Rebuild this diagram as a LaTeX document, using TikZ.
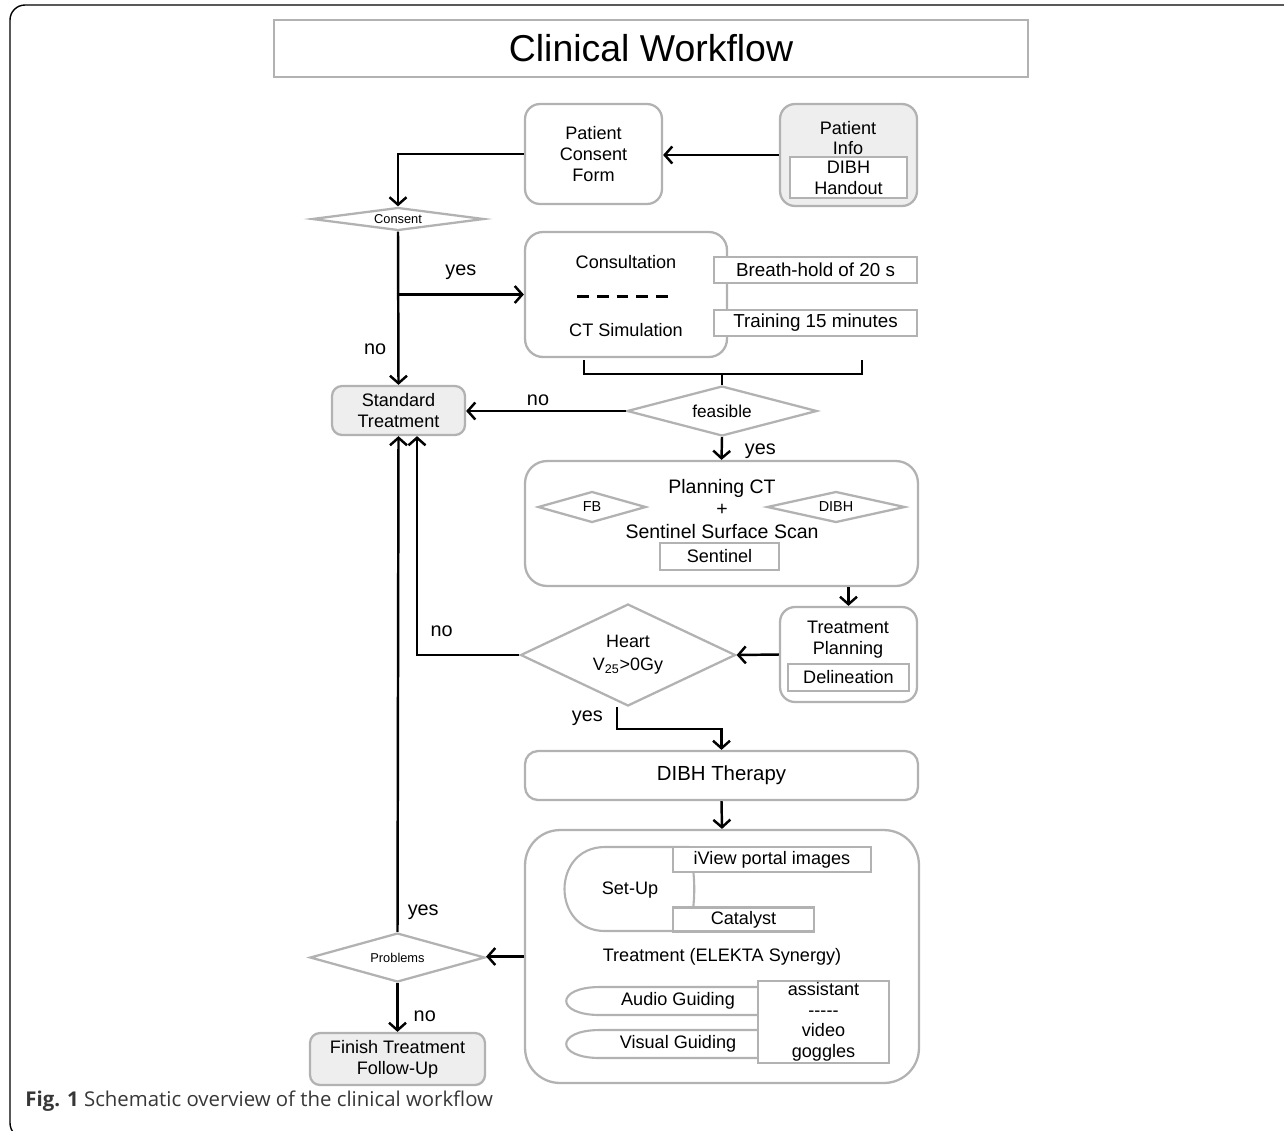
\documentclass[tikz,border=0pt]{standalone}
\usepackage{fontspec}
\setmainfont{Liberation Sans}
\newfontfamily\capfont{Open Sans}
\usepackage{tikz}
\usetikzlibrary{arrows.meta,positioning,calc,shapes.geometric}
\definecolor{boxgrey}{RGB}{178,178,178}
\definecolor{fillgrey}{RGB}{238,238,238}
\definecolor{capgrey}{RGB}{55,55,55}
\tikzset{
  base/.style={font=\fontsize{10.3}{11.9}\selectfont, align=center, inner sep=0pt, text=black},
  box/.style={base, rectangle, rounded corners=0.3cm, draw=boxgrey, fill=white, line width=1.3pt},
  greybox/.style={box, fill=fillgrey},
  tag/.style={base, rectangle, draw=boxgrey, fill=white, line width=1.2pt},
  dec/.style={base, diamond, draw=boxgrey, fill=white, line width=1.3pt},
  lane/.style={draw=boxgrey, fill=white, line width=1.2pt},
  arr/.style={-{Straight Barb[length=1.5mm,width=3.4mm,line width=1.4pt]}, line width=1.4pt, draw=black},
  brace/.style={line width=1.3pt, draw=black},
  lbl/.style={font=\fontsize{11.3}{12}\selectfont, inner sep=0pt},
  tiny/.style={font=\fontsize{7.3}{8}\selectfont},
  outline/.style={line width=0.8pt, draw=black, rounded corners=0.3cm},
}

\begin{document}
\begin{tikzpicture}[x=0.02cm,y=-0.02cm]
  \useasboundingbox (0,0) rectangle (1284,1130);
  \draw[outline] (1300,5) -- (10,5) -- (10,1138) -- (40,1138);
  \node[tag, minimum width=15.08cm, minimum height=1.14cm, font=\fontsize{21.3}{23}\selectfont] (title) at (651,48.5) {Clinical Workflow};

  \node[box, minimum width=2.74cm, minimum height=2cm] (form) at (593.5,154) {Patient\\Consent\\Form};
  \node[greybox, minimum width=2.74cm, minimum height=2.04cm] (info) at (848.5,155) {};
  \node[base] (infotext) at (848,138) {Patient\\Info};
  \node[tag, minimum width=2.34cm, minimum height=0.82cm] (handout) at (848.5,177.5) {DIBH\\Handout};
  \node[dec, tiny, aspect=7.5, minimum width=3.44cm, minimum height=0.46cm] (consent) at (398,219) {Consent};

  \node[box, rounded corners=0.36cm, minimum width=4.04cm, minimum height=2.5cm] (consult) at (626,294.5) {};
  \node[base] (consulttext) at (626,262) {Consultation};
  \node[base] (simtext) at (626,330) {CT Simulation};
  \draw[line width=1.7pt, dash pattern=on 0.24cm off 0.155cm] (577,296) -- (668,296);
  \node[tag, font=\fontsize{10.7}{12}\selectfont, minimum width=4.06cm, minimum height=0.52cm] (breath) at (815.5,270) {Breath-hold of 20 s};
  \node[tag, font=\fontsize{10.7}{12}\selectfont, minimum width=4.06cm, minimum height=0.52cm] (training) at (815.5,323) {Training 15 minutes};

  \node[dec, font=\fontsize{9.8}{11}\selectfont, aspect=3.8, minimum width=3.8cm, minimum height=1cm] (feasible) at (722,411) {feasible};
  \coordinate (bracel) at (584,360);
  \coordinate (bracer) at (862,360);
  \draw[brace] (bracel) -- ++(0,14) -- ($(bracer)+(0,14)$) -- (bracer);
  \draw[brace] (feasible.north |- 0,374) -- (feasible.north);
  \node[greybox, rounded corners=0.2cm, minimum width=2.66cm, minimum height=0.98cm] (std) at (398.5,410.5) {Standard\\Treatment};

  \node[box, rounded corners=0.44cm, minimum width=7.86cm, minimum height=2.5cm] (plan) at (721.5,523.5) {};
  \node[dec, font=\fontsize{8.2}{9}\selectfont, aspect=3.5, minimum width=2.16cm, minimum height=0.62cm] (fb) at (592,507) {FB};
  \node[dec, font=\fontsize{8.2}{9}\selectfont, aspect=4.45, minimum width=2.76cm, minimum height=0.62cm] (dibhd) at (836,507) {DIBH};
  \node[base, font=\fontsize{11.1}{12.75}\selectfont] (plantext) at (722,509) {Planning CT\\+\\Sentinel Surface Scan};
  \node[tag, minimum width=2.38cm, minimum height=0.54cm] (sentinel) at (719.5,556.5) {Sentinel};

  \node[box, minimum width=2.74cm, minimum height=1.9cm] (tplan) at (848.5,654.5) {};
  \node[base] (tplantext) at (848,640) {Treatment\\Planning};
  \node[tag, minimum width=2.42cm, minimum height=0.54cm] (delin) at (848.5,677.5) {Delineation};
  \node[dec, font=\fontsize{10.2}{13}\selectfont, aspect=2.1, minimum width=4.3cm, minimum height=2.04cm] (heart) at (628,655) {Heart\\V\textsubscript{25}>0Gy};

  \node[box, rounded corners=0.26cm, font=\fontsize{11.6}{13}\selectfont, minimum width=7.86cm, minimum height=0.98cm] (therapy) at (721.5,775.5) {DIBH Therapy};
  \node[box, rounded corners=0.7cm, minimum width=7.88cm, minimum height=5.06cm] (treat) at (722,956.5) {};
  \draw[lane] (689,847) -- (605,847) .. controls (551,847) and (551,931) .. (605,931) -- (689,931) .. controls (696,903) and (696,875) .. (689,847);
  \node[base] (setup) at (630,890) {Set-Up};
  \node[tag, minimum width=3.96cm, minimum height=0.5cm] (iview) at (772,859.5) {iView portal images};
  \node[tag, minimum width=2.82cm, minimum height=0.48cm] (catalyst) at (743.5,919.5) {Catalyst};
  \node[base] (treattext) at (722,957) {Treatment (ELEKTA Synergy)};
  \draw[lane] (758,987) -- (600,987) .. controls (555,987) and (555,1015) .. (600,1015) -- (758,1015);
  \draw[lane] (758,1030) -- (600,1030) .. controls (555,1030) and (555,1058) .. (600,1058) -- (758,1058);
  \node[base] (audio) at (678,1001) {Audio Guiding};
  \node[base] (visual) at (678,1044) {Visual Guiding};
  \node[tag, font=\fontsize{10.3}{11.7}\selectfont, minimum width=2.62cm, minimum height=1.64cm] (assist) at (823.5,1022) {assistant\\-{}-{}-{}-{}-\\video\\goggles};

  \node[dec, tiny, aspect=3.6, minimum width=3.5cm, minimum height=0.98cm] (problems) at (397.5,957.5) {Problems};
  \node[greybox, rounded corners=0.2cm, minimum width=3.5cm, minimum height=1.04cm] (finish) at (397.5,1059) {Finish Treatment\\Follow-Up};

  \draw[arr] (info.west) -- (form.east |- info.west);
  \draw[arr] (form.west) -| (consent.north);
  \draw[arr] (consent.south) -- node[lbl, pos=0.77, left=0.22cm]{no} (std.north);
  \draw[arr] (consent.south |- consult.west) -- node[lbl, above=0.28cm]{yes} (consult.west);
  \draw[arr] (feasible.west) -- node[lbl, pos=0.55, above=0.08cm]{no} (std.east |- feasible.west);
  \draw[arr] (feasible.south) -- node[lbl, pos=0.64, right=0.44cm]{yes} (plan.north);
  \draw[arr] (plan.south -| tplan.north) -- (tplan.north);
  \draw[arr] (tplan.west) -- (heart.east);
  \draw[arr] (heart.west) -| node[lbl, pos=0.38, above=0.34cm]{no} ([xshift=0.37cm]std.south);
  \draw[arr] ([xshift=-0.22cm]heart.south) -- node[lbl, left=0.26cm]{yes} ++(0,22) -| (therapy.north);
  \draw[arr] (therapy.south) -- (treat.north);
  \draw[arr] (treat.west) -- (problems.east |- treat.west);
  \draw[arr] (problems.north) -- node[lbl, pos=0.04, right=0.18cm]{yes} (std.south);
  \draw[arr] (problems.south) -- node[lbl, pos=0.67, right=0.3cm]{no} (finish.north);

  \node[anchor=west, inner sep=0pt, text=capgrey, font=\capfont\fontsize{11.6}{13}\selectfont] (caption) at (25,1101) {\textbf{Fig. 1} Schematic overview of the clinical workflow};
\end{tikzpicture}
\end{document}
